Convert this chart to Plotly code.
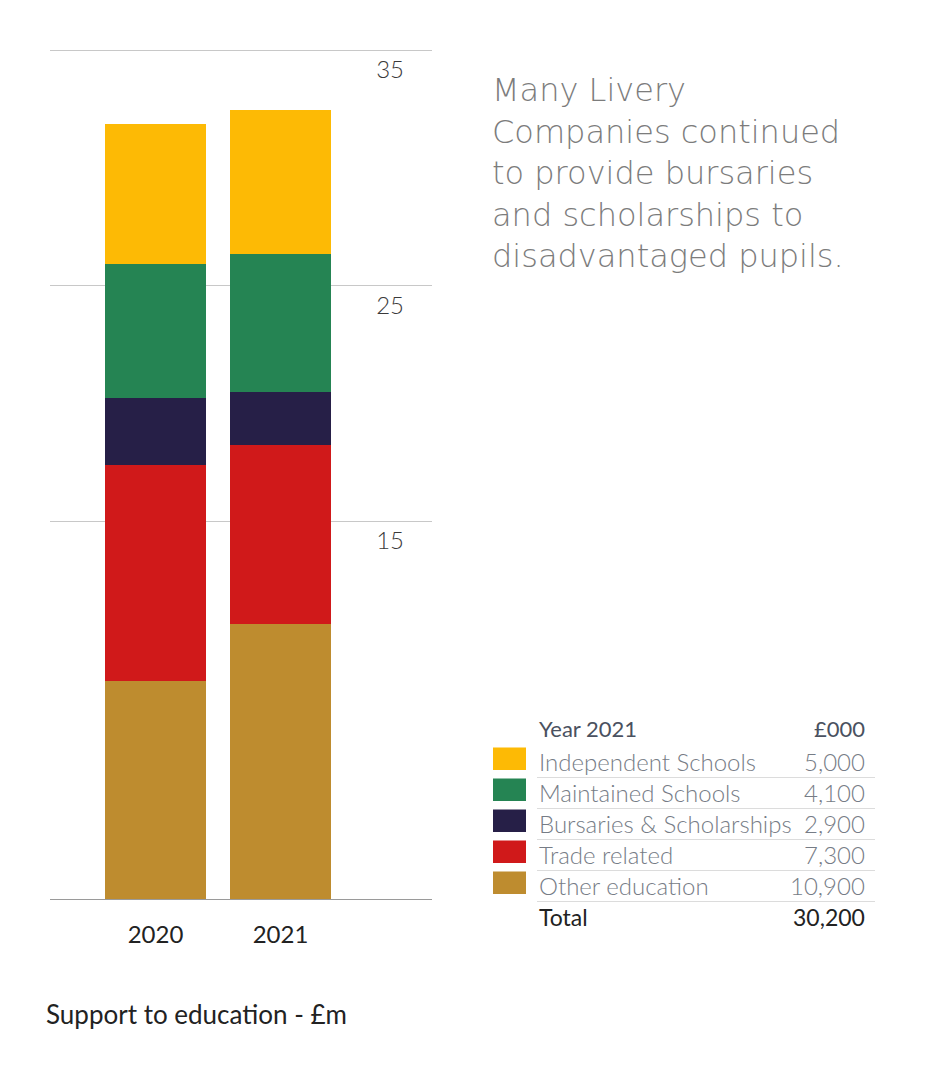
import plotly.graph_objects as go

# ---------------- data ----------------
years = ["2020", "2021"]
series_names = ["Other education", "Trade related", "Bursaries & Scholarships",
                "Maintained Schools", "Independent Schools"]
series_colors = ["#BE8C2F", "#D0191A", "#261F47", "#258453", "#FDBA05"]
# values (£m)
other_education = [9.26, 11.68]
trade_related = [9.17, 7.60]
bursaries = [2.84, 2.25]
maintained = [5.69, 5.86]
independent = [5.95, 6.11]
series_values = [other_education, trade_related, bursaries, maintained, independent]

tick_vals = [15, 25, 35]
tick_text = ["15", "25", "35"]

# table (Year 2021, £000)
table_labels = ["Independent Schools", "Maintained Schools", "Bursaries & Scholarships",
                "Trade related", "Other education"]
table_values = ["5,000", "4,100", "2,900", "7,300", "10,900"]
table_colors = ["#FDBA05", "#258453", "#261F47", "#D0191A", "#BE8C2F"]
table_total = "30,200"

title_lines = ["Many Livery", "Companies continued", "to provide bursaries",
               "and scholarships to", "disadvantaged pupils."]
caption = "Support to education - £m"

# ---------------- layout geometry ----------------
OFF = 8                                  # page body margin
W, H = 944 - OFF, 1074 - OFF
L, R, T, B = 50, 432, 40, 899            # plot area in page pixels
PX_PER_UNIT = 23.55

def px(x):
    return (x - L) / (R - L)

def py(y):
    return (B - y) / (B - T)

FONT = "Lato"
TFONT = "DejaVu Sans"

fig = go.Figure()
for name, vals, col in zip(series_names, series_values, series_colors):
    fig.add_trace(go.Bar(x=years, y=vals, name=name, marker=dict(color=col, line=dict(width=0)),
                         width=0.808, showlegend=False))

fig.update_layout(
    barmode="stack",
    width=W, height=H,
    margin=dict(l=L - OFF, r=944 - R, t=T - OFF, b=1074 - B, pad=0),
    paper_bgcolor="white", plot_bgcolor="white",
    font=dict(family=FONT, color="#222"),
    xaxis=dict(type="category", range=[-0.844, 2.212], showgrid=False, zeroline=False,
               showline=True, linecolor="#9a9a9a", linewidth=1,
               ticks="", tickfont=dict(size=24, color="#222", family=FONT),
               ticklabelstandoff=14),
    yaxis=dict(range=[0, (B - T) / PX_PER_UNIT], side="right", tickmode="array",
               tickvals=tick_vals, ticktext=tick_text, ticklabelposition="inside",
               ticklabelstandoff=25, ticklabelshift=-5,
               tickfont=dict(size=24, color="#3a3a3a", family=FONT, weight=300),
               showgrid=False, zeroline=False, showline=False, ticks="",
               minor=dict(tickmode="array", tickvals=[t + 1.04 for t in tick_vals],
                          showgrid=True, gridcolor="#c8c8c8", gridwidth=1, ticks="")),
)

# title text (right), one multi-line block
fig.add_annotation(xref="paper", yref="paper", x=px(491), y=py(70),
                   text="<br>".join(title_lines), showarrow=False, align="left",
                   xanchor="left", yanchor="top", borderpad=0,
                   font=dict(family=TFONT, size=32, color="#7c7c7c", weight=200))

# table
row_y0, row_step = 761.5, 31.0
fig.add_annotation(xref="paper", yref="paper", x=px(537), y=py(728), text="Year 2021",
                   showarrow=False, xanchor="left", yanchor="middle",
                   font=dict(family=FONT, size=22, color="#4a5160"))
fig.add_annotation(xref="paper", yref="paper", x=px(867), y=py(728), text="£000",
                   showarrow=False, xanchor="right", yanchor="middle",
                   font=dict(family=FONT, size=22, color="#4a5160"))
for i, (lab, val, col) in enumerate(zip(table_labels, table_values, table_colors)):
    yc = row_y0 + i * row_step
    fig.add_shape(type="rect", xref="paper", yref="paper", x0=px(493), x1=px(526),
                  y0=py(yc - 14), y1=py(yc + 8.5), fillcolor=col, line=dict(width=0))
    fig.add_annotation(xref="paper", yref="paper", x=px(537), y=py(yc), text=lab,
                       showarrow=False, xanchor="left", yanchor="middle",
                       font=dict(family=FONT, size=24, color="#767c86", weight=300))
    fig.add_annotation(xref="paper", yref="paper", x=px(867), y=py(yc), text=val,
                       showarrow=False, xanchor="right", yanchor="middle",
                       font=dict(family=FONT, size=24, color="#767c86", weight=300))
    fig.add_shape(type="line", xref="paper", yref="paper", x0=px(537), x1=px(875),
                  y0=py(yc + 16), y1=py(yc + 16), line=dict(color="#dcdcdc", width=1))
yt = row_y0 + len(table_labels) * row_step
fig.add_annotation(xref="paper", yref="paper", x=px(537), y=py(yt), text="Total",
                   showarrow=False, xanchor="left", yanchor="middle",
                   font=dict(family=FONT, size=23, color="#222"))
fig.add_annotation(xref="paper", yref="paper", x=px(867), y=py(yt), text=table_total,
                   showarrow=False, xanchor="right", yanchor="middle",
                   font=dict(family=FONT, size=23, color="#222"))

# caption
fig.add_annotation(xref="paper", yref="paper", x=px(44), y=py(1014), text=caption,
                   showarrow=False, xanchor="left", yanchor="middle",
                   font=dict(family=FONT, size=26, color="#222"))

fig.write_html("out.html")
